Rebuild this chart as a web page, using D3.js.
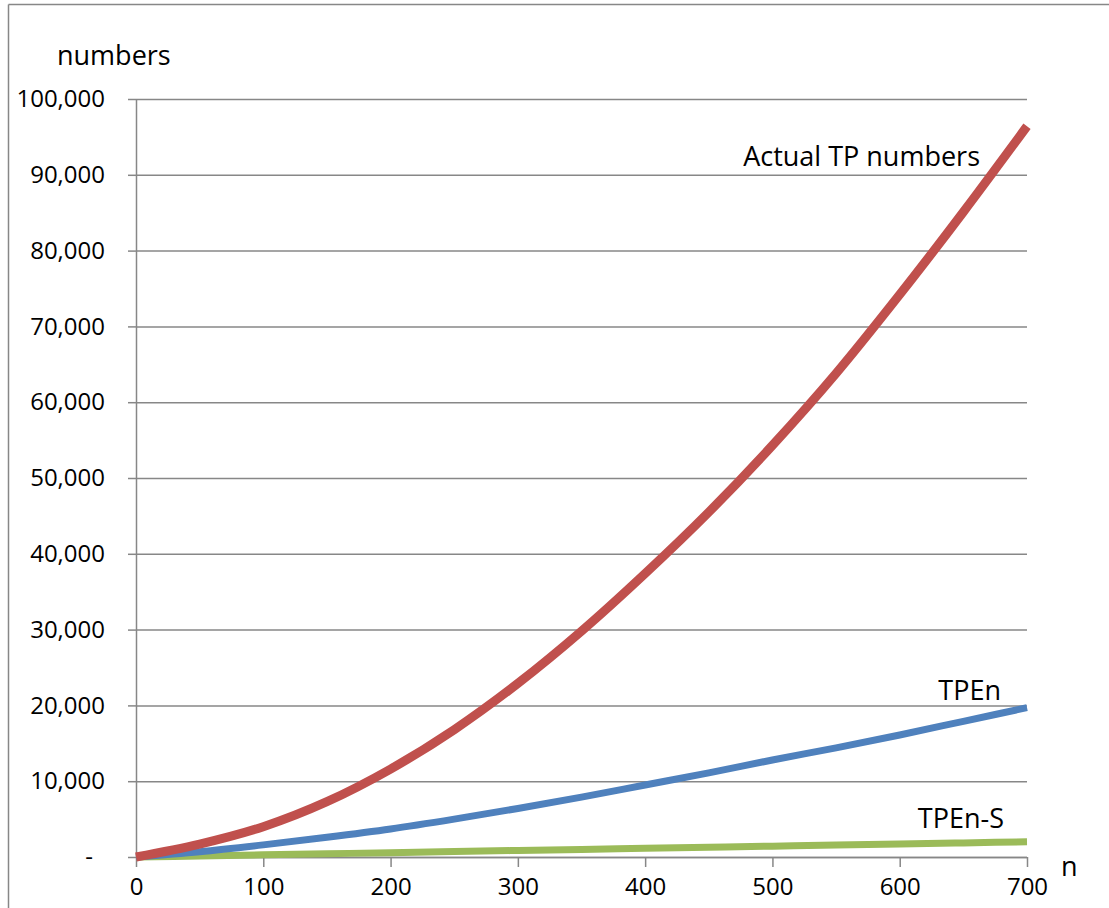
<!DOCTYPE html>
<html>
<head>
<meta charset="utf-8">
<script src="https://cdn.jsdelivr.net/npm/d3@7"></script>
<style>
  html, body { margin: 0; padding: 0; background: #fff; }
  svg { display: block; font-family: "Open Sans", Lato, sans-serif; }
</style>
</head>
<body>
<svg width="1109" height="908"></svg>
<script>
// data
const nValues = [0, 50, 100, 150, 200, 250, 300, 350, 400, 450, 500, 550, 600, 650, 700];
const actualTP = [0, 1700, 4000, 7300, 11600, 16800, 22900, 29800, 37400, 45500, 54300, 63800, 74200, 85100, 96400];
const tpen = [0, 700, 1600, 2600, 3700, 5000, 6400, 7900, 9500, 11100, 12800, 14400, 16100, 17900, 19700];
const tpenS = [0, 140, 290, 430, 570, 720, 860, 1000, 1140, 1290, 1430, 1570, 1720, 1860, 2000];
const xTicks = [0, 100, 200, 300, 400, 500, 600, 700];
const yTicks = [0, 10000, 20000, 30000, 40000, 50000, 60000, 70000, 80000, 90000, 100000];

const series = [
    {name: 'TPEn-S', values: tpenS, color: '#9BBB59', width: 7},
    {name: 'TPEn', values: tpen, color: '#4F81BD', width: 7},
    {name: 'Actual TP numbers', values: actualTP, color: '#C0504D', width: 9}
];

const svg = d3.select('svg');
const grey = '#878787';

// outer frame (only top and left edges fall inside the picture)
svg.append('line').attr('x1', 8.5).attr('x2', 1109).attr('y1', 4.5).attr('y2', 4.5)
    .style('stroke', grey).style('stroke-width', 1.5);
svg.append('line').attr('x1', 8.5).attr('x2', 8.5).attr('y1', 4.5).attr('y2', 908)
    .style('stroke', grey).style('stroke-width', 1.5);

const x = d3.scaleLinear().domain([0, 700]).range([136, 1027]);
const y = d3.scaleLinear().domain([0, 100000]).range([857, 99]);

const fmt = d => d === 0 ? '-' : d3.format(',')(d);

// gridlines
const grid = svg.append('g').attr('transform', 'translate(136,0)')
    .call(d3.axisLeft(y).tickValues(yTicks).tickSize(-(1027 - 136)).tickFormat(''));
grid.select('.domain').remove();
grid.selectAll('line').style('stroke', grey).style('stroke-width', 1.5);

// y axis
const yAxis = svg.append('g').attr('transform', 'translate(136,0)')
    .call(d3.axisLeft(y).tickValues(yTicks).tickSize(8).tickPadding(23).tickFormat(fmt));
yAxis.select('.domain').attr('d', `M0.5,${y(100000)}V${y(0)}`).style('stroke', grey).style('stroke-width', 1.5);
yAxis.selectAll('line').style('stroke', grey).style('stroke-width', 1.5);
yAxis.selectAll('text').style('font-size', '24px').style('fill', '#000')
    .style('font-family', '"Open Sans", sans-serif')
    .filter(d => d === 0).attr('dx', -12);

// x axis
const xAxis = svg.append('g').attr('transform', 'translate(0,857)')
    .call(d3.axisBottom(x).tickValues(xTicks).tickSize(10).tickPadding(11).tickFormat(d3.format('d')));
xAxis.select('.domain').attr('d', `M${x(0)},0.5H${x(700)}`).style('stroke', grey).style('stroke-width', 1.5);
xAxis.selectAll('line').style('stroke', grey).style('stroke-width', 1.5);
xAxis.selectAll('text').style('font-size', '24px').style('fill', '#000')
    .style('font-family', '"Open Sans", sans-serif');

// lines
const line = d3.line()
    .x((d, i) => x(nValues[i]))
    .y(d => y(d))
    .curve(d3.curveMonotoneX);

svg.append('g').selectAll('path')
    .data(series)
    .enter().append('path')
    .attr('d', d => line(d.values))
    .style('fill', 'none')
    .style('stroke', d => d.color)
    .style('stroke-width', d => d.width)
    .style('stroke-linejoin', 'round');

// texts
const label = (tx, ty, t, anchor) => svg.append('text')
    .attr('x', tx).attr('y', ty).attr('text-anchor', anchor || 'start')
    .style('font-size', '27px').style('fill', '#000').text(t);

label(57, 65, 'numbers');
label(1061, 876, 'n');
label(980, 166, 'Actual TP numbers', 'end');
label(1001, 700, 'TPEn', 'end');
label(1004, 828, 'TPEn-S', 'end');
</script>
</body>
</html>
